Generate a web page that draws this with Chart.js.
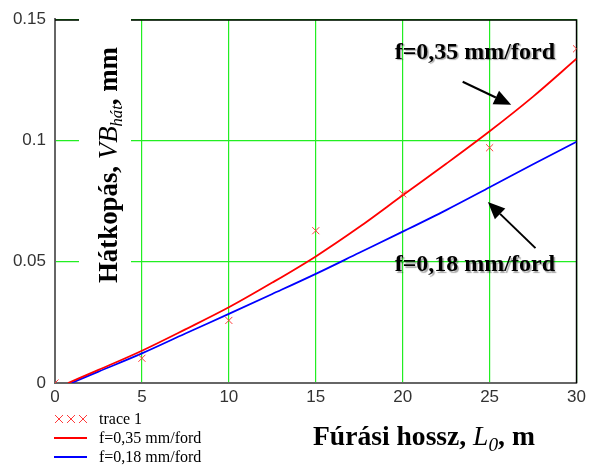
<!DOCTYPE html>
<html>
<head>
<meta charset="utf-8">
<script src="https://cdn.jsdelivr.net/npm/chart.js@4.4.1/dist/chart.umd.min.js"></script>
<style>
html,body{margin:0;padding:0;background:#fff;}
#wrap{width:590px;height:466px;position:relative;}
</style>
</head>
<body>
<div id="wrap"><canvas id="c" width="590" height="466"></canvas></div>
<script>
// ---- data ----
const xTicks = [0, 5, 10, 15, 20, 25, 30];
const yTicks = [0, 0.05, 0.1, 0.15];
const yTickLabels = ['0', '0.05', '0.1', '0.15'];

const measLabel = 'trace 1';
const measX = [0, 5, 10, 15, 20, 25, 30];
const measY = [0, 0.0102, 0.0258, 0.0628, 0.0780, 0.0970, 0.1378];

const red35Label = 'f=0,35 mm/ford';
const red35X = [0.75, 2.5, 5, 7.5, 10, 12.5, 15, 17.5, 20, 22.5, 25, 27.5, 30];
const red35Y = [0, 0.0054, 0.0133, 0.0221, 0.0312, 0.0414, 0.0522, 0.0643, 0.0774, 0.0904, 0.1038, 0.1181, 0.1337];

const blue18Label = 'f=0,18 mm/ford';
const blue18X = [0.95, 2.5, 5, 7.5, 10, 12.5, 15, 17.5, 20, 22.5, 25, 27.5, 30];
const blue18Y = [0, 0.0047, 0.0122, 0.0204, 0.0285, 0.0367, 0.0450, 0.0537, 0.0624, 0.0713, 0.0807, 0.0902, 0.0995];

const toPts = (xs, ys) => xs.map((x, i) => ({x: x, y: ys[i]}));

// annotation placement (data coordinates)
const notes = [
  {text: 'f=0,35 mm/ford', x: 19.54, y: 0.1337, tail: [23.45, 0.1242], tip: [26.24, 0.1147]},
  {text: 'f=0,18 mm/ford', x: 19.54, y: 0.0460, tail: [27.64, 0.0556], tip: [24.90, 0.0746]}
];

function drawRuns(ctx, runs, x, y) {
  let cx = x;
  runs.forEach(r => {
    ctx.font = r.font;
    ctx.fillText(r.t, cx, y + (r.dy || 0));
    cx += ctx.measureText(r.t).width;
  });
  return cx - x;
}
function runsWidth(ctx, runs) {
  let w = 0;
  runs.forEach(r => { ctx.font = r.font; w += ctx.measureText(r.t).width; });
  return w;
}
function fitSize(ctx, mk, target) {
  const w = runsWidth(ctx, mk(20));
  return 20 * target / w;
}

const serif = '"Liberation Serif", "Times New Roman", serif';

const deco = {
  id: 'deco',
  beforeDatasetsDraw(chart) {
    const ctx = chart.ctx;
    const a = chart.chartArea;
    // top / right black frame
    ctx.save();
    ctx.strokeStyle = '#000';
    ctx.lineWidth = 1.5;
    ctx.beginPath();
    ctx.moveTo(a.left, a.top + 0.75);
    ctx.lineTo(a.right, a.top + 0.75);
    ctx.lineTo(a.right, a.bottom);
    ctx.stroke();
    ctx.restore();

    // y-axis title with white box
    ctx.save();
    ctx.fillStyle = '#fff';
    ctx.fillRect(79, 6, 52, 324);
    const mkY = s => [
      {t: 'Hátkopás, ', font: 'bold ' + s + 'px ' + serif},
      {t: 'VB', font: 'italic ' + s + 'px ' + serif},
      {t: 'hát', font: 'italic ' + (s * 0.62) + 'px ' + serif, dy: s * 0.2},
      {t: ', mm', font: 'bold ' + s + 'px ' + serif}
    ];
    const sY = fitSize(ctx, mkY, 236);
    const runsY = mkY(sY);
    ctx.translate(117, 283);
    ctx.rotate(-Math.PI / 2);
    ctx.fillStyle = '#000';
    ctx.textBaseline = 'alphabetic';
    ctx.textAlign = 'left';
    drawRuns(ctx, runsY, 0, 0);
    ctx.restore();
  },
  afterDatasetsDraw(chart) {
    const ctx = chart.ctx;
    const xs = chart.scales.x, ys = chart.scales.y;
    const ds = chart.data.datasets;

    // x-axis title
    ctx.save();
    const mkX = s => [
      {t: 'Fúrási hossz, ', font: 'bold ' + s + 'px ' + serif},
      {t: 'L', font: 'italic ' + s + 'px ' + serif},
      {t: '0', font: 'italic ' + (s * 0.7) + 'px ' + serif, dy: s * 0.2},
      {t: ', m', font: 'bold ' + s + 'px ' + serif}
    ];
    const sX = fitSize(ctx, mkX, 222);
    ctx.fillStyle = '#000';
    ctx.textBaseline = 'alphabetic';
    drawRuns(ctx, mkX(sX), 313, 445);
    ctx.restore();

    // annotations + arrows
    notes.forEach(n => {
      ctx.save();
      ctx.font = 'bold 24px ' + serif;
      ctx.textBaseline = 'alphabetic';
      ctx.shadowColor = 'rgba(0,0,0,0.35)';
      ctx.shadowOffsetX = 1.5;
      ctx.shadowOffsetY = 1.5;
      ctx.shadowBlur = 1;
      ctx.fillStyle = '#000';
      ctx.fillText(n.text, xs.getPixelForValue(n.x), ys.getPixelForValue(n.y));
      ctx.restore();

      const x0 = xs.getPixelForValue(n.tail[0]), y0 = ys.getPixelForValue(n.tail[1]);
      const x1 = xs.getPixelForValue(n.tip[0]), y1 = ys.getPixelForValue(n.tip[1]);
      const ang = Math.atan2(y1 - y0, x1 - x0);
      const hl = 17, hw = 7.5;
      const bx = x1 - hl * Math.cos(ang), by = y1 - hl * Math.sin(ang);
      ctx.save();
      ctx.strokeStyle = '#000';
      ctx.fillStyle = '#000';
      ctx.lineWidth = 2;
      ctx.beginPath();
      ctx.moveTo(x0, y0);
      ctx.lineTo(bx, by);
      ctx.stroke();
      ctx.beginPath();
      ctx.moveTo(x1, y1);
      ctx.lineTo(bx + hw * Math.sin(ang), by - hw * Math.cos(ang));
      ctx.lineTo(bx - hw * Math.sin(ang), by + hw * Math.cos(ang));
      ctx.closePath();
      ctx.fill();
      ctx.restore();
    });

    // legend
    ctx.save();
    ctx.font = '16px ' + serif;
    ctx.textBaseline = 'middle';
    ctx.fillStyle = '#000';
    const rows = [419, 438, 457];
    // markers row
    ctx.strokeStyle = ds[0].borderColor;
    ctx.lineWidth = 1;
    [59, 71, 83].forEach(cx => {
      const h = 4;
      ctx.beginPath();
      ctx.moveTo(cx - h, rows[0] - h); ctx.lineTo(cx + h, rows[0] + h);
      ctx.moveTo(cx + h, rows[0] - h); ctx.lineTo(cx - h, rows[0] + h);
      ctx.stroke();
    });
    ctx.fillText(ds[0].label, 99, rows[0] + 1);
    [1, 2].forEach(i => {
      ctx.strokeStyle = ds[i].borderColor;
      ctx.lineWidth = 2;
      ctx.beginPath();
      ctx.moveTo(54, rows[i]); ctx.lineTo(87, rows[i]);
      ctx.stroke();
      ctx.fillText(ds[i].label, 99, rows[i] + 1);
    });
    ctx.restore();
  }
};

const tickFont = {family: '"Liberation Sans", Arial, sans-serif', size: 17};

new Chart(document.getElementById('c'), {
  type: 'scatter',
  data: {
    datasets: [
      {label: measLabel, data: toPts(measX, measY), showLine: false,
       pointStyle: 'crossRot', pointRadius: 5, pointBorderWidth: 1,
       borderColor: '#ff3b3b', backgroundColor: '#ff3b3b'},
      {label: red35Label, data: toPts(red35X, red35Y), showLine: true,
       pointRadius: 0, borderColor: '#ff0000', borderWidth: 1.8,
       cubicInterpolationMode: 'monotone'},
      {label: blue18Label, data: toPts(blue18X, blue18Y), showLine: true,
       pointRadius: 0, borderColor: '#0000ff', borderWidth: 1.8,
       cubicInterpolationMode: 'monotone'}
    ]
  },
  options: {
    responsive: false,
    animation: false,
    devicePixelRatio: 1,
    layout: {padding: {top: 15, right: 13, left: 0, bottom: 0}},
    plugins: {legend: {display: false}, tooltip: {enabled: false}, title: {display: false}},
    scales: {
      x: {
        type: 'linear', min: 0, max: 30,
        afterBuildTicks: s => { s.ticks = xTicks.map(v => ({value: v})); },
        afterFit: s => { s.height = 83; },
        ticks: {font: tickFont, color: '#333', padding: 4, maxRotation: 0,
                callback: v => String(v)},
        grid: {color: '#22ee22', lineWidth: 1.2, drawTicks: false},
        border: {color: '#666', width: 2}
      },
      y: {
        type: 'linear', min: 0, max: 0.15,
        afterBuildTicks: s => { s.ticks = yTicks.map(v => ({value: v})); },
        afterFit: s => { s.width = 55; },
        ticks: {font: tickFont, color: '#333', padding: 9,
                callback: (v) => { const i = yTicks.findIndex(t => Math.abs(t - v) < 1e-9); return i >= 0 ? yTickLabels[i] : ''; }},
        grid: {color: '#22ee22', lineWidth: 1.2, drawTicks: false},
        border: {color: '#666', width: 2}
      }
    }
  },
  plugins: [deco]
});
</script>
</body>
</html>
